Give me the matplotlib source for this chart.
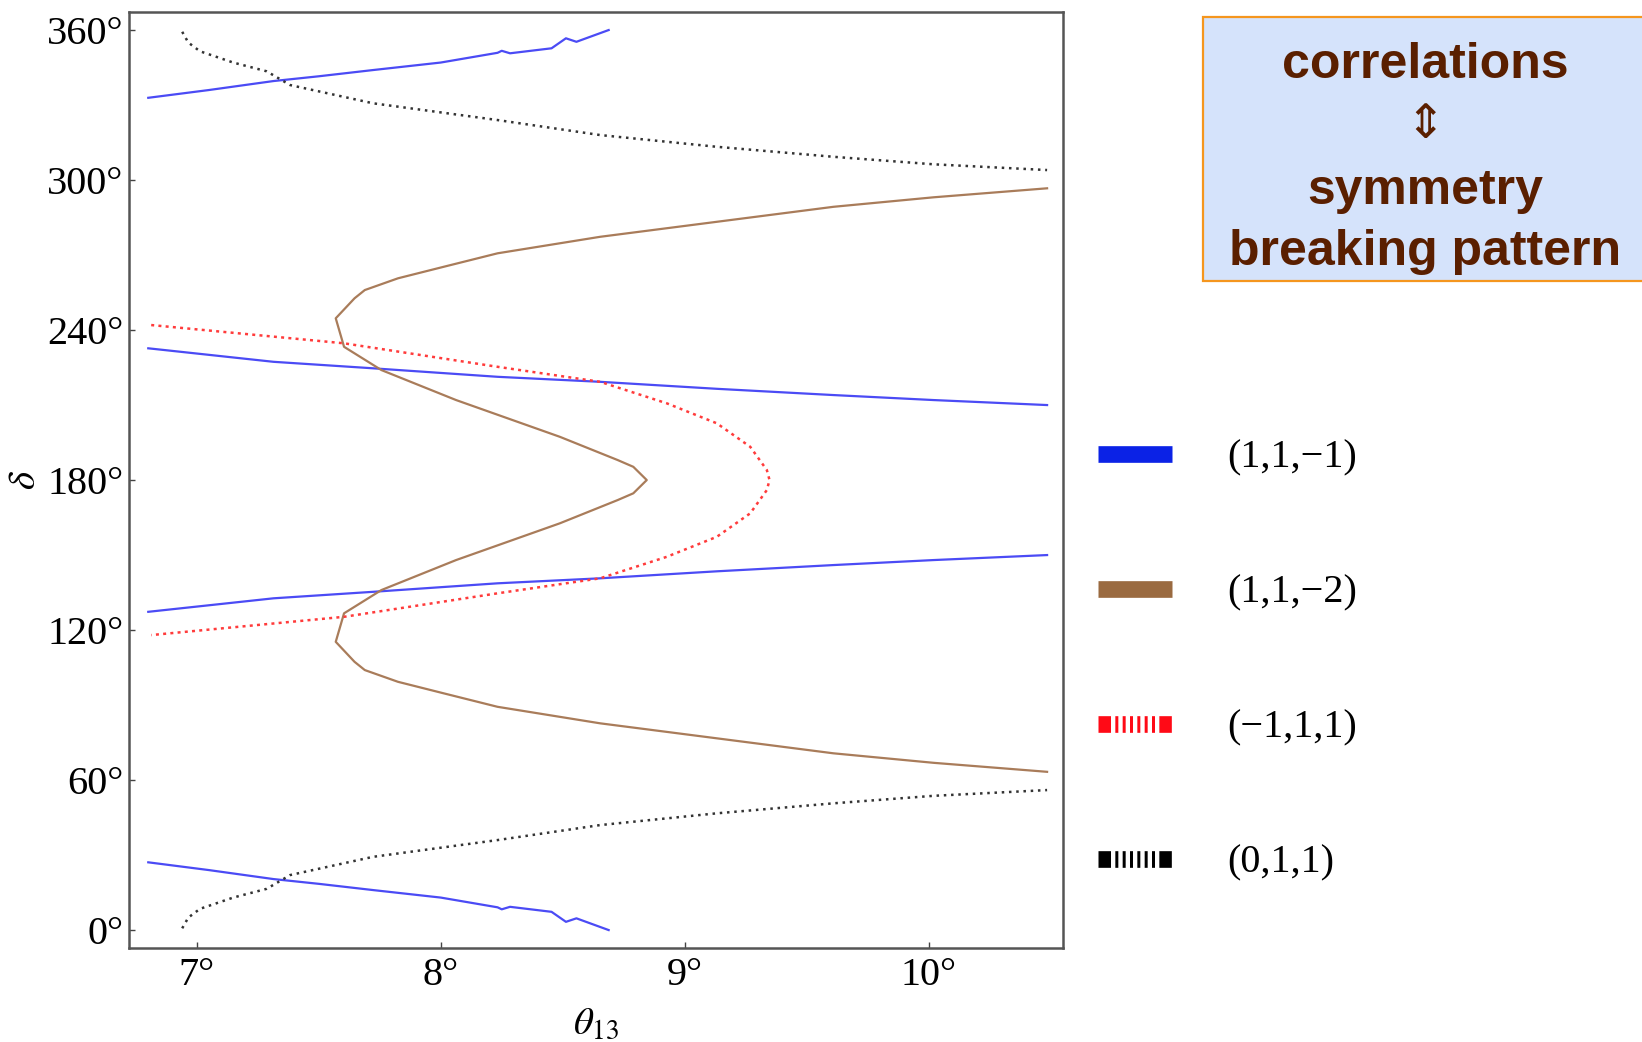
import numpy as np
import matplotlib.pyplot as plt
from matplotlib.lines import Line2D
from matplotlib.patches import Rectangle

plt.rcParams['font.family'] = 'Liberation Serif'
plt.rcParams['mathtext.fontset'] = 'stix'

################## data (degrees) #################
# (1,1,-1) : four blue branches
blue_top_th = [6.802, 7.05, 7.315, 7.50, 7.723, 8.00, 8.233, 8.25, 8.284, 8.454, 8.513, 8.556, 8.688]
blue_top_d = [332.9, 336.0, 339.6, 341.5, 344.0, 347.0, 350.9, 351.7, 350.7, 352.7, 356.7, 355.3, 360.0]
blue_bot_th = [6.802, 7.05, 7.315, 7.50, 7.723, 8.00, 8.233, 8.25, 8.284, 8.454, 8.513, 8.556, 8.688]
blue_bot_d = [27.1, 24.0, 20.4, 18.5, 16.0, 13.0, 9.1, 8.3, 9.3, 7.3, 3.3, 4.7, 0.0]
blue_mid_th = [6.802, 7.315, 7.723, 8.233, 8.653, 9.131, 9.609, 10.019, 10.484]
blue_hi_d = [232.7, 227.3, 224.7, 221.3, 219.3, 216.5, 214.0, 212.0, 210.0]
blue_lo_d = [127.3, 132.7, 135.3, 138.7, 140.7, 143.5, 146.0, 148.0, 150.0]

# (1,1,-2) : brown closed curve, top right -> vertex -> bottom right
brown_th = [10.484, 10.019, 9.609, 9.131, 8.653, 8.233, 8.012, 7.825, 7.689, 7.647, 7.570,
            7.604, 7.757, 8.063, 8.488, 8.725, 8.789, 8.844,
            8.789, 8.725, 8.488, 8.063, 7.757, 7.604,
            7.570, 7.647, 7.689, 7.825, 8.012, 8.233, 8.653, 9.131, 9.609, 10.019, 10.484]
brown_d = [296.7, 293.1, 289.3, 283.3, 277.3, 270.7, 265.3, 260.7, 256.0, 252.7, 244.7,
           233.3, 224.0, 212.0, 197.3, 188.0, 185.3, 180.0,
           174.7, 172.0, 162.7, 148.0, 136.0, 126.7,
           115.3, 107.3, 104.0, 99.3, 94.7, 89.3, 82.7, 76.7, 70.7, 66.9, 63.3]

# (-1,1,1) : red dotted
red_th = [6.814, 7.604, 8.233, 8.653, 8.926, 9.131, 9.268, 9.336, 9.347,
          9.336, 9.268, 9.131, 8.926, 8.653, 8.233, 7.604, 6.814]
red_d = [242.0, 234.7, 225.3, 219.3, 210.7, 202.7, 193.3, 184.0, 180.0,
         176.0, 166.7, 157.3, 149.3, 140.7, 134.7, 125.3, 118.0]

# (0,1,1) : black dotted, two branches
black_th = [6.941, 6.966, 7.014, 7.15, 7.287, 7.383, 7.723, 8.233, 8.653, 9.131, 9.609, 10.019, 10.484]
black_top_d = [359.3, 355.0, 351.5, 347.0, 343.5, 338.0, 330.7, 324.0, 318.0, 313.3, 309.3, 306.3, 304.0]
black_bot_d = [0.7, 5.0, 8.5, 13.0, 16.5, 22.0, 29.3, 36.0, 42.0, 46.7, 50.7, 53.7, 56.0]

xticks = [7, 8, 9, 10]
xlabels = ['7°', '8°', '9°', '10°']
yticks = [0, 60, 120, 180, 240, 300, 360]
ylabels = ['0°', '60°', '120°', '180°', '240°', '300°', '360°']

legend_labels = ['(1,1,\u22121)', '(1,1,\u22122)', '(\u22121,1,1)', '(0,1,1)']

box_lines = ['correlations', 'symmetry', 'breaking pattern']

################## figure #################
fig = plt.figure(figsize=(16.42, 10.42), dpi=100)
ax = fig.add_axes([0.0787, 0.0899, 0.5688, 0.8983])

c_blue = '#4b4bf5'
c_brown = '#a97c5a'
c_red = '#ff3b3b'
c_black = '#333333'
lw = 1.6

ax.plot(blue_top_th, blue_top_d, color=c_blue, lw=lw)
ax.plot(blue_bot_th, blue_bot_d, color=c_blue, lw=lw)
ax.plot(blue_mid_th, blue_hi_d, color=c_blue, lw=lw)
ax.plot(blue_mid_th, blue_lo_d, color=c_blue, lw=lw)
ax.plot(brown_th, brown_d, color=c_brown, lw=lw)
ax.plot(red_th, red_d, color=c_red, lw=1.8, ls=(0, (1.2, 1.7)))
ax.plot(black_th, black_top_d, color=c_black, lw=1.8, ls=(0, (1.0, 1.9)))
ax.plot(black_th, black_bot_d, color=c_black, lw=1.8, ls=(0, (1.0, 1.9)))

ax.set_xlim(6.724, 10.55)
ax.set_ylim(-7.3, 367.1)
ax.set_xticks(xticks)
ax.set_xticklabels(xlabels)
ax.set_yticks(yticks)
ax.set_yticklabels(ylabels)
ax.tick_params(direction='in', length=4, width=1, color='#444444', labelsize=29)
ax.tick_params(axis='x', pad=6)
ax.tick_params(axis='y', pad=4)
for sp in ax.spines.values():
    sp.set_color('#555555')
    sp.set_linewidth(1.8)

ax.set_xlabel(r'$\theta_{13}$', fontsize=28)
ax.xaxis.set_label_coords(0.5, -0.062)
ax.set_ylabel(r'$\delta$', fontsize=28)
ax.yaxis.set_label_coords(-0.091, 0.5)

# legend on the right
swatch = (0, (0.75, 0.26, 0.18, 0.26, 0.18, 0.26, 0.18, 0.26, 0.18, 0.26,
              0.18, 0.26, 0.18, 0.26, 0.75, 10))
handles = [
    Line2D([], [], color='#0b22e6', lw=12, solid_capstyle='butt'),
    Line2D([], [], color='#9a6a40', lw=12, solid_capstyle='butt'),
    Line2D([], [], color='#ff0a16', lw=12, ls=swatch, dash_capstyle='butt'),
    Line2D([], [], color='#000000', lw=12, ls=swatch, dash_capstyle='butt'),
]
fig.legend(handles, legend_labels, loc='center left', bbox_to_anchor=(1098 / 1642, 0.366),
           frameon=False, prop={'family': 'Liberation Serif', 'size': 29},
           handlelength=1.83, handletextpad=1.37, labelspacing=2.43,
           borderpad=0, borderaxespad=0)

# box top right
fig.patches.append(Rectangle((1203 / 1642, 1 - 281 / 1042), 0.30, 264 / 1042,
                             transform=fig.transFigure, facecolor='#d5e3fb',
                             edgecolor='#f5961e', lw=1.6))
tcol = '#5a1f00'
xc = 1425 / 1642
fig.text(xc, 1 - 77.5 / 1042, box_lines[0], ha='center', va='baseline', fontsize=36,
         weight='bold', color=tcol, family='Liberation Sans')
fig.text(xc, 1 - 125 / 1042, '\u21d5', ha='center', va='center', fontsize=34,
         color=tcol, family=['DejaVu Sans'])
fig.text(xc, 1 - 204 / 1042, box_lines[1], ha='center', va='baseline', fontsize=36,
         weight='bold', color=tcol, family='Liberation Sans')
fig.text(xc, 1 - 265 / 1042, box_lines[2], ha='center', va='baseline', fontsize=36,
         weight='bold', color=tcol, family='Liberation Sans')

plt.savefig('out.png', dpi=100)
